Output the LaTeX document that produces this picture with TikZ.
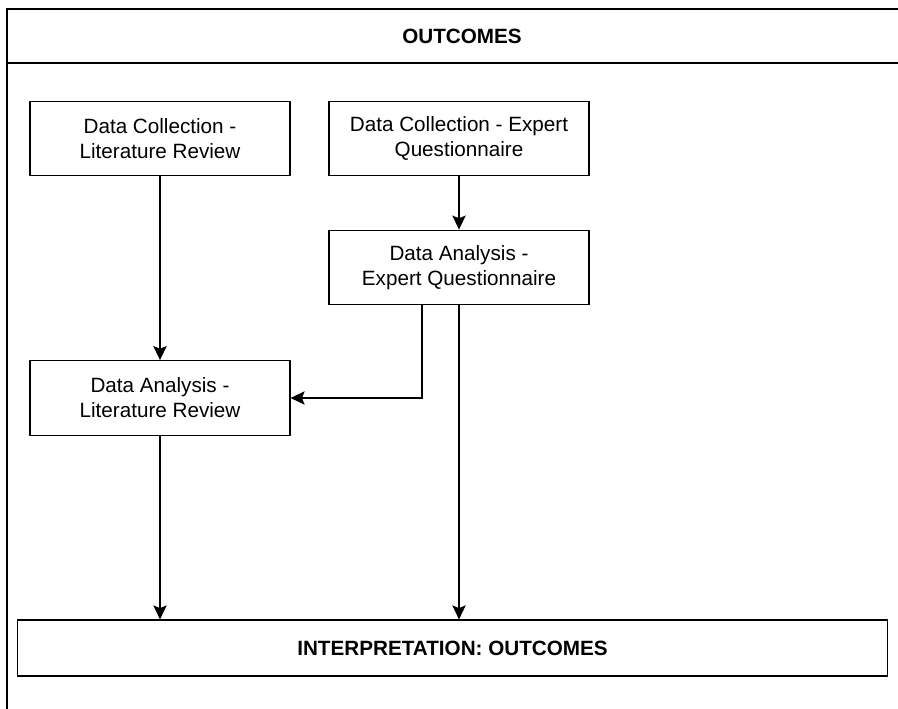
\documentclass[tikz,border=0pt]{standalone}
\usepackage{fontspec}
\setmainfont{Liberation Sans}
\usepackage{tikz}
\usetikzlibrary{arrows.meta}
\usetikzlibrary{positioning}
\usetikzlibrary{calc}

\begin{document}
\begin{tikzpicture}[x=0.75pt,y=-0.75pt,
	font=\fontsize{15.5}{18.75}\selectfont,
	stepnode/.style={rectangle,draw,line width=0.9pt,align=center,minimum width=195pt,minimum height=56pt,inner sep=0pt},
	endnode/.style={rectangle,draw,line width=0.9pt,font=\fontsize{15.5}{18.75}\selectfont\bfseries,minimum width=653pt,minimum height=42pt,inner sep=0pt},
	titlenode/.style={font=\fontsize{15.5}{18.75}\selectfont\bfseries,inner sep=0pt},
	flow/.style={line width=0.9pt,-{Stealth[length=10.5pt,width=10pt,inset=2pt]}},
	]
	\useasboundingbox (0,0) rectangle (898,708);
	% outer frame with header
	\draw[line width=1.2pt] (7,720) -- (7,9) -- (930,9);
	\draw[line width=1.2pt] (7,63) -- (930,63);
	\node (title) [titlenode] at (462,36) {OUTCOMES};
	% steps
	\node (dclit) [stepnode] at (160,138.5) {Data Collection -\\Literature Review};
	\node (dcexp) [stepnode] at (459,138.5) {Data Collection - Expert\\Questionnaire};
	\node (daexp) [stepnode] at (459,267.5) {Data Analysis -\\Expert Questionnaire};
	\node (dalit) [stepnode] at (160,398) {Data Analysis -\\Literature Review};
	\node (interp) [endnode] at (452.5,648) {INTERPRETATION: OUTCOMES};
	% connectors
	\draw[flow] (dclit) -- (dalit);
	\draw[flow] (dcexp) -- (daexp);
	\draw[flow] ($(daexp.south)+(-37,0)$) |- (dalit.east);
	\draw[flow] (daexp.south) -- (daexp.south |- interp.north);
	\draw[flow] (dalit.south) -- (dalit.south |- interp.north);
\end{tikzpicture}
\end{document}
